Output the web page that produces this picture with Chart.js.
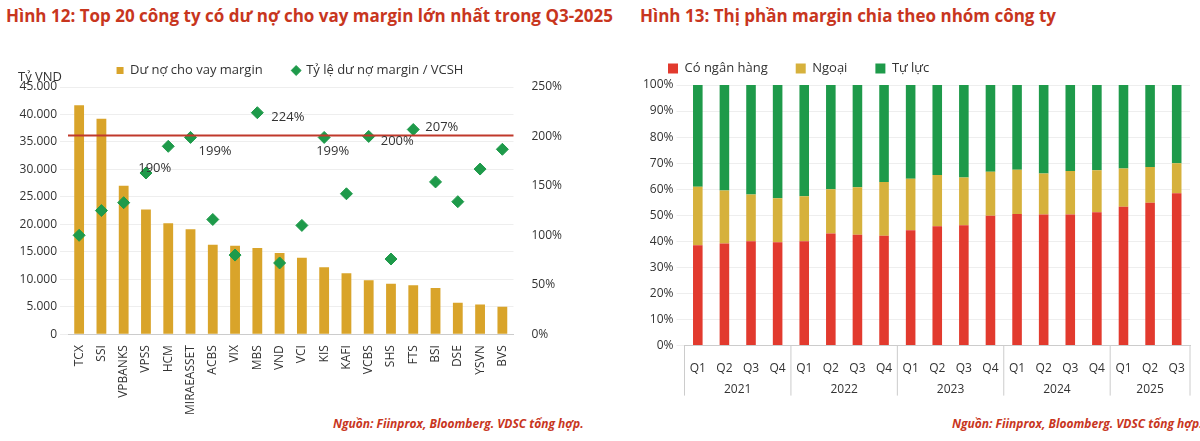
<!DOCTYPE html>
<html><head><meta charset="utf-8">
<script src="https://cdn.jsdelivr.net/npm/chart.js@4.4.1/dist/chart.umd.min.js"></script>
<style>
body{margin:0;width:1200px;height:441px;background:#fff;font-family:"Open Sans",sans-serif;position:relative;overflow:hidden}
.t{position:absolute;top:4px;font-weight:bold;font-size:17px;color:#C8361E;white-space:nowrap}
.s{position:absolute;top:415px;font-style:italic;font-weight:bold;font-size:12px;color:#C8361E;white-space:nowrap}
.w{position:absolute;top:34px;height:384px}
</style></head><body>
<div class="t" style="left:6px">Hình 12: Top 20 công ty có dư nợ cho vay margin lớn nhất trong Q3-2025</div>
<div class="t" style="left:640px">Hình 13: Thị phần margin chia theo nhóm công ty</div>
<div class="s" style="left:333px">Nguồn: Fiinprox, Bloomberg. VDSC tổng hợp.</div>
<div class="s" style="left:952px">Nguồn: Fiinprox, Bloomberg. VDSC tổng hợp.</div>
<div class="w" style="left:0;width:590px"><canvas id="c1"></canvas></div>
<div class="w" style="left:640px;width:556px;height:386px"><canvas id="c2"></canvas></div>
<script>
const companies=["TCX","SSI","VPBANKS","VPSS","HCM","MIRAEASSET","ACBS","VIX","MBS","VND","VCI","KIS","KAFI","VCBS","SHS","FTS","BSI","DSE","YSVN","BVS"];
const marginDebt=[41700,39200,27000,22700,20200,19100,16300,16100,15700,14800,13900,12200,11100,9800,9200,8900,8400,5700,5400,5000];
const debtRatio=[100,125,133,163,190,199,116,80,224,72,110,199,142,200,76,207,154,134,167,187];
const labelled=["HCM","MIRAEASSET","MBS","KIS","VCBS","FTS"];
const threshold=201;
const quarters=["Q1","Q2","Q3","Q4","Q1","Q2","Q3","Q4","Q1","Q2","Q3","Q4","Q1","Q2","Q3","Q4","Q1","Q2","Q3"];
const years=["2021","2022","2023","2024","2025"];
const quartersPerYear=[4,4,4,4,3];
const bank=[38.5,39.2,40,39.7,40,43,42.5,42.2,44.3,45.8,46.2,49.8,50.5,50.3,50.3,51.2,53.3,54.8,58.5];
const foreign=[22.5,20.3,18,16.8,17.3,17,18.3,20.6,19.7,19.7,18.3,16.9,17,15.7,16.7,16.1,14.7,13.7,11.5];
const indep=[39,40.5,42,43.5,42.7,40,39.2,37.2,36,34.5,35.5,33.3,32.5,34,33,32.7,32,31.5,30];
const fnt={family:"Open Sans",size:12};
Chart.defaults.color='#333';
const extra={id:'extra',afterDatasetsDraw(ch){
 const c=ch.ctx,y=ch.scales.y2.getPixelForValue(threshold),a=ch.chartArea;
 c.save();c.strokeStyle='#C0392B';c.lineWidth=2;c.beginPath();c.moveTo(a.left,y);c.lineTo(a.right,y);c.stroke();
 const m=ch.getDatasetMeta(1);c.font='13px "Open Sans"';c.fillStyle='#333';
 const off={HCM:[-30,22],MIRAEASSET:[8,14],MBS:[14,5],KIS:[-8,14],VCBS:[12,5],FTS:[12,-2]};
 companies.forEach((n,i)=>{if(labelled.includes(n)){const p=m.data[i],o=off[n];c.fillText(debtRatio[i]+'%',p.x+o[0],p.y+o[1]);}});
 c.fillText('Tỷ VND',18,a.top-10);c.restore();}};
new Chart(document.getElementById('c1'),{data:{labels:companies,datasets:[
 {type:'bar',label:'Dư nợ cho vay margin',data:marginDebt,backgroundColor:'#D9A42A',yAxisID:'y',barPercentage:0.55,order:2,pointStyle:'rect'},
 {type:'scatter',label:'Tỷ lệ dư nợ margin / VCSH',data:debtRatio,backgroundColor:'#1E9A4A',borderColor:'#1E9A4A',pointStyle:'rectRot',pointRadius:6,yAxisID:'y2',order:1}]},
 options:{responsive:true,maintainAspectRatio:false,animation:false,layout:{padding:{left:8,top:0,right:18,bottom:0}},
 plugins:{legend:{labels:{usePointStyle:true,boxWidth:7,boxHeight:7,padding:30,font:{family:"Open Sans",size:13},sort:(a,b)=>a.datasetIndex-b.datasetIndex},
  afterFit(l){l.height+=28}},tooltip:{enabled:false}},
 scales:{x:{type:'category',grid:{display:false},ticks:{font:fnt,maxRotation:90,minRotation:90},border:{color:'#ccc'}},
 y:{position:'left',min:0,max:45000,afterFit(s){s.width=60},ticks:{stepSize:5000,font:fnt,callback:v=>v.toLocaleString('de-DE')},grid:{color:'#eee'},border:{display:false}},
 y2:{position:'right',min:0,max:250,ticks:{stepSize:50,font:fnt,callback:v=>v+'%',padding:10},grid:{display:false},border:{display:false}}}},plugins:[extra]});
const yearAxis={id:'yearAxis',afterDraw(ch){
 const c=ch.ctx,a=ch.chartArea,xs=ch.scales.x;c.save();c.strokeStyle='#ccc';c.lineWidth=1;
 c.font='12px "Open Sans"';c.fillStyle='#333';c.textAlign='center';
 const half=(xs.getPixelForValue(1)-xs.getPixelForValue(0))/2;let k=0;
 const line=x=>{c.beginPath();c.moveTo(x,a.bottom);c.lineTo(x,a.bottom+50);c.stroke();};
 line(a.left);
 quartersPerYear.forEach((n,j)=>{const x0=xs.getPixelForValue(k)-half,x1=xs.getPixelForValue(k+n-1)+half;
  c.fillText(years[j],(x0+x1)/2,a.bottom+44);line(x1);k+=n;});
 c.restore();}};
new Chart(document.getElementById('c2'),{type:'bar',data:{labels:quarters,datasets:[
 {label:'Có ngân hàng',data:bank,backgroundColor:'#E23A2E',barPercentage:0.45,categoryPercentage:0.8},
 {label:'Ngoại',data:foreign,backgroundColor:'#D6B13C',barPercentage:0.45,categoryPercentage:0.8},
 {label:'Tự lực',data:indep,backgroundColor:'#1E9A4A',barPercentage:0.45,categoryPercentage:0.8}]},
 options:{responsive:true,maintainAspectRatio:false,animation:false,layout:{padding:{bottom:36,right:6}},
 plugins:{legend:{position:'top',align:'start',labels:{boxWidth:10,boxHeight:10,padding:28,font:{family:"Open Sans",size:13}}},tooltip:{enabled:false}},
 scales:{x:{stacked:true,grid:{display:false},ticks:{font:fnt,padding:8},border:{color:'#ccc'}},
 y:{stacked:true,min:0,max:100,ticks:{stepSize:10,font:fnt,callback:v=>v+'%'},grid:{color:'#eee'},border:{display:false}}}},plugins:[yearAxis]});
</script></body></html>
